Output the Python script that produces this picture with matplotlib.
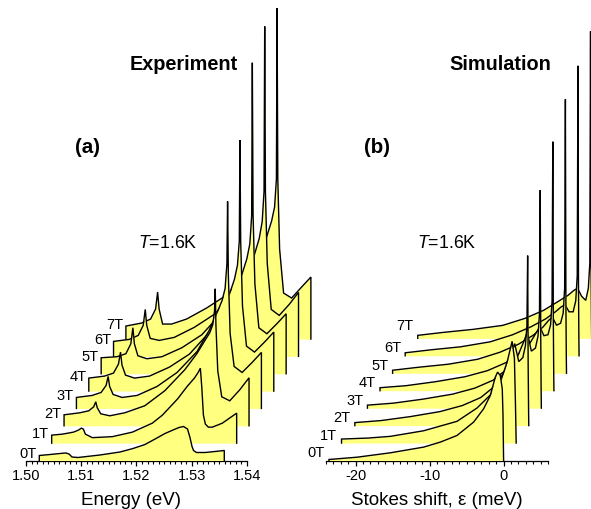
import matplotlib
matplotlib.use("Agg")
import matplotlib.pyplot as plt
import numpy as np
from matplotlib.ticker import MultipleLocator, FormatStrFormatter

plt.rcParams['font.family'] = ['Liberation Sans', 'DejaVu Sans']
plt.rcParams['axes.unicode_minus'] = False
plt.rcParams['mathtext.fontset'] = 'custom'
plt.rcParams['mathtext.rm'] = 'Liberation Sans'
plt.rcParams['mathtext.it'] = 'Liberation Sans:italic'

# ---------------- data ----------------
fields = ["0T", "1T", "2T", "3T", "4T", "5T", "6T", "7T"]

# Experiment: energies (eV, frame of the 0T trace) and intensities (arb.)
exp_E_0T = [1.50241, 1.50434, 1.50615, 1.50724, 1.50778, 1.50833, 1.50941, 1.51339,
            1.51701, 1.51937, 1.52154, 1.52353, 1.52516, 1.52661, 1.52769, 1.52851,
            1.52923, 1.52968, 1.53005, 1.53032, 1.53086, 1.53240, 1.53421, 1.53589]
exp_I_0T = [5, 6, 7, 7.5, 6.5, 3.5, 3, 5.5, 8.5, 12, 16, 22, 27, 30.5, 33, 34,
            31.5, 23, 14, 10, 8, 8, 9, 10]

exp_E_1T = [1.50241, 1.50434, 1.50634, 1.50724, 1.50778, 1.50815, 1.50851, 1.50977,
            1.51339, 1.51701, 1.52063, 1.52244, 1.52516, 1.52697, 1.52824, 1.52896,
            1.52932, 1.52959, 1.52987, 1.53023, 1.53077, 1.53149, 1.53330, 1.53589]
exp_I_1T = [8, 9, 11, 13, 15, 14, 9, 5.5, 6.5, 11, 20, 28, 44, 57, 65, 71,
            75, 55, 28, 19, 16, 16, 20, 30]

exp_E_hi = [1.50241, 1.50525, 1.50688, 1.50778, 1.50815, 1.50842, 1.50905, 1.51068,
            1.51339, 1.51701, 1.52063, 1.52425, 1.52643, 1.52787, 1.52878, 1.52932,
            1.52965, 1.52977, 1.52990, 1.53023, 1.53095, 1.53240, 1.53421, 1.53589]
exp_I_2T = [11, 13, 15, 19, 24, 18, 12, 10, 13, 20, 35, 56, 72, 85, 93, 101, 115, 137, 100, 55, 29, 25, 36, 48]
exp_I_3T = [11, 13, 16, 23, 32, 22, 14, 11, 13, 22, 36, 57, 78, 96, 108, 120, 145, 207, 135, 75, 42, 36, 46, 56]
exp_I_4T = [13, 15, 18, 27, 39, 26, 16, 13, 15, 24, 37, 59, 79, 97, 112, 126, 150, 251, 150, 85, 45, 39, 49, 59]
exp_I_5T = [16, 17, 20, 30, 46, 30, 18, 15, 17, 26, 39, 61, 81, 99, 115, 130, 158, 311, 160, 90, 46, 40, 50, 60]
exp_I_6T = [15, 17, 21, 31, 47, 31, 18, 16, 19, 29, 42, 63, 83, 101, 118, 135, 165, 330, 165, 93, 47, 41, 52, 64]
exp_I_7T = [13, 16, 20, 30, 47, 30, 15, 15, 20, 31, 44, 64, 84, 102, 118, 132, 160, 331, 160, 90, 46, 41, 52, 62]

exp_E = [exp_E_0T, exp_E_1T] + [exp_E_hi] * 6
exp_I = [exp_I_0T, exp_I_1T, exp_I_2T, exp_I_3T, exp_I_4T, exp_I_5T, exp_I_6T, exp_I_7T]

# Simulation: Stokes shift (meV, frame of the 0T trace) and intensities
sim_S_0T = [-23.6, -19.8, -15.3, -10.8, -8.55, -6.3, -4.05, -2.7, -1.8, -1.12, -0.81, -0.45, -0.18, -0.08, 0]
sim_I_0T = [1, 3.3, 7.7, 13.4, 18.4, 25, 38.4, 51.7, 65, 83.4, 88.4, 85, 71.7, 45, 0]
sim_S_1T = [-23.6, -20, -17.0, -12.5, -8.0, -5.3, -3.5, -2.1, -1.2, -0.55, -0.24, -0.1, 0]
sim_I_1T = [4, 5, 6.7, 12.3, 21.7, 35, 48, 61.7, 81.7, 101.7, 85, 40, 0]
sim_S_hi = [-23.5, -20, -16, -12, -9, -6.5, -4.5, -3.2, -2.4, -1.9, -1.35, -0.8, -0.45, -0.25, -0.15, -0.08, -0.03, 0]
sim_I_2T = [3, 5, 9, 14, 20, 28, 40, 55, 70, 82, 64, 68, 80, 100, 170, 60, 20, 0]
sim_I_3T = [3, 5, 9, 14, 20, 28, 40, 52, 66, 76, 57, 60, 72, 95, 218, 70, 20, 0]
sim_I_4T = [3, 5, 9, 14, 20, 28, 38, 48, 58, 64, 55, 56, 66, 90, 249, 70, 20, 0]
sim_I_5T = [3, 6, 9, 14, 21, 29, 38, 46, 53, 56, 48, 50, 60, 85, 274, 70, 20, 0]
sim_I_6T = [3, 6, 9, 14, 21, 29, 37, 44, 49, 51, 44, 44, 55, 80, 290, 70, 20, 0]
sim_I_7T = [3, 6, 9, 13, 20, 28, 37, 43, 48, 50, 42, 38, 50, 75, 307, 70, 20, 0]

sim_S = [sim_S_0T, sim_S_1T] + [sim_S_hi] * 6
sim_I = [sim_I_0T, sim_I_1T, sim_I_2T, sim_I_3T, sim_I_4T, sim_I_5T, sim_I_6T, sim_I_7T]

exp_ticks = [1.50, 1.51, 1.52, 1.53, 1.54]
sim_ticks = [-20, -10, 0]

# waterfall offsets
exp_dx, exp_dy, exp_y0 = 0.002239, 17.35, 0.5
sim_dx, sim_dy, sim_y0 = 1.70, 17.45, 0.5

# ---------------- figure ----------------
W, H = 591, 510
fig = plt.figure(figsize=(W / 100, H / 100), dpi=100)
yellow = '#ffff80'

def px_ax(x0, x1, ybot):
    return [x0 / W, 1 - ybot / H, (x1 - x0) / W, ybot / H]

axL = fig.add_axes(px_ax(26, 247, 462))
axR = fig.add_axes(px_ax(326, 548, 462))

def waterfall(ax, xs, ys, dx, dy, y0, label_gap, label_dy):
    n = len(ys)
    for k in range(n - 1, -1, -1):
        x = np.asarray(xs[k]) + k * dx
        y = np.asarray(ys[k], dtype=float)
        base = y0 + k * dy
        z = 10 + (n - k) * 2
        ax.fill_between(x, base, base + y, color=yellow, lw=0, zorder=z, clip_on=False)
        ox = np.concatenate([[x[0]], x, [x[-1]]])
        oy = np.concatenate([[base], base + y, [base]])
        ax.plot(ox, oy, color='black', lw=1.0, zorder=z + 1, clip_on=False,
                solid_joinstyle='miter')
        ax.text(x[0] - label_gap, base + label_dy[k](y[0]), fields[k],
                ha='right', va='baseline', fontsize=10.5, zorder=40)

for ax in (axL, axR):
    for s in ('left', 'right', 'top'):
        ax.spines[s].set_visible(False)
    ax.spines['bottom'].set_linewidth(0.9)
    ax.set_yticks([])
    ax.set_ylim(0, 462)
    ax.patch.set_alpha(0)
    ax.tick_params(axis='x', which='major', direction='out', length=3.8, width=0.9,
                   pad=1.6, labelsize=10.5)
    ax.tick_params(axis='x', which='minor', direction='out', length=2.3, width=0.8)

axL.set_xlim(1.50, 1.54)
axL.set_xticks(exp_ticks)
axL.xaxis.set_major_formatter(FormatStrFormatter('%.2f'))
axL.xaxis.set_minor_locator(MultipleLocator(0.001))

axR.set_xlim(-24, 6)
axR.set_xticks(sim_ticks)
axR.xaxis.set_minor_locator(MultipleLocator(1))

exp_lab = [lambda h0: h0 - 2] * 8
sim_lab = [lambda h0: 4.5] * 7 + [lambda h0: 9.0]
waterfall(axL, exp_E, exp_I, exp_dx, exp_dy, exp_y0, 0.00045, exp_lab)
waterfall(axR, sim_S, sim_I, sim_dx, sim_dy, sim_y0, 0.55, sim_lab)

def ftext(x, y, s, **kw):
    fig.text(x / W, 1 - y / H, s, **kw)

ftext(184, 70.5, 'Experiment', ha='center', va='baseline', fontsize=14.3, fontweight='bold')
ftext(500.5, 70.5, 'Simulation', ha='center', va='baseline', fontsize=14.3, fontweight='bold')
ftext(87, 153, '(a)', ha='center', va='baseline', fontsize=14.8, fontweight='bold')
ftext(377, 153, '(b)', ha='center', va='baseline', fontsize=14.8, fontweight='bold')
ftext(138, 248.3, r'$\mathit{T}$=1.6K', ha='left', va='baseline', fontsize=12.8)
ftext(417, 248.3, r'$\mathit{T}$=1.6K', ha='left', va='baseline', fontsize=12.8)
ftext(131, 505, 'Energy (eV)', ha='center', va='baseline', fontsize=13.5)
ftext(437, 505, 'Stokes shift, ε (meV)', ha='center', va='baseline', fontsize=13.5)

fig.savefig('out.png', dpi=100)
